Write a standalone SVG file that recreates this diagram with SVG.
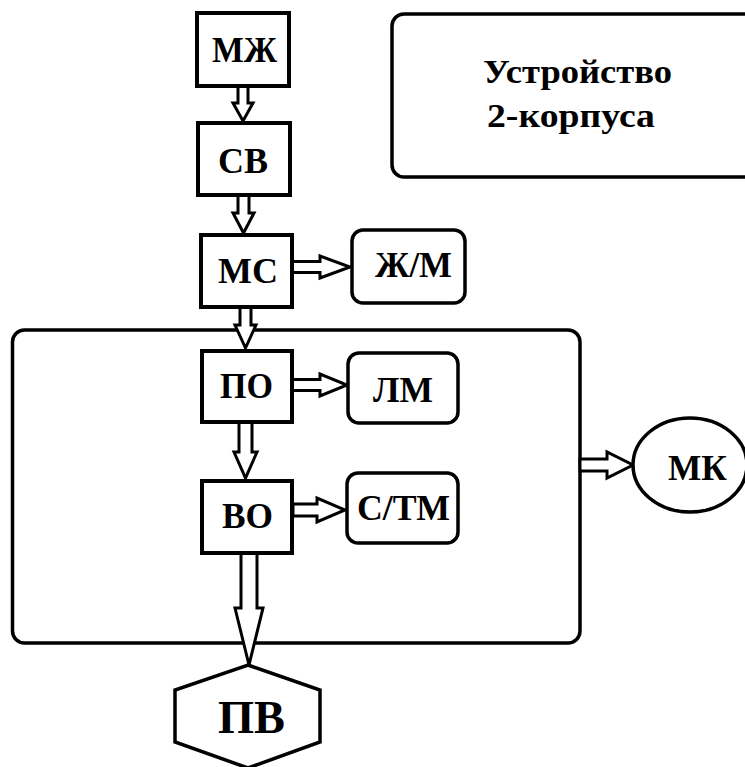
<svg xmlns="http://www.w3.org/2000/svg" width="745" height="767" viewBox="0 0 745 767">
<style>
.box{fill:#fff;stroke:#000;stroke-width:4}
.rbox{fill:#fff;stroke:#000;stroke-width:3.5}
.arr{fill:#fff;stroke:#000;stroke-width:3;stroke-linejoin:miter}
.t{font-family:"Liberation Serif","DejaVu Serif","Times New Roman",serif;font-weight:bold;font-size:36px;fill:#000;text-anchor:middle}
.tt{font-family:"Liberation Serif","DejaVu Serif","Times New Roman",serif;font-weight:bold;font-size:34px;fill:#000}
</style>
<rect width="745" height="767" fill="#fff"/>
<g id="device2">
<rect class="rbox" x="392" y="14" width="380" height="163" rx="12"/>
<text class="tt" x="483" y="83" textLength="189" lengthAdjust="spacingAndGlyphs">Устройство</text>
<text class="tt" x="487" y="127" textLength="168" lengthAdjust="spacingAndGlyphs">2-корпуса</text>
</g>
<g id="housing">
<rect class="rbox" x="12.5" y="330" width="567.5" height="313" rx="12"/>
</g>
<g id="connectors">
<polygon class="arr" points="238,86 248,86 248,103 253,103 243,121 233,103 238,103"/>
<polygon class="arr" points="238,195 249,195 249,213 254,213 243.5,233 233,213 238,213"/>
<polygon class="arr" points="240,307 251,307 251,325 256,325 245.5,348 235,325 240,325"/>
<polygon class="arr" points="239,422 252,422 252,452 257,452 245.5,478 234,452 239,452"/>
<polygon class="arr" points="241,553 257,553 257,608 263,608 249,665 235,608 241,608"/>
<polygon class="arr" points="292,261.5 320,261.5 320,256 350,267 320,278 320,272.5 292,272.5"/>
<polygon class="arr" points="292,379.5 320,379.5 320,374 347,385 320,396 320,390.5 292,390.5"/>
<polygon class="arr" points="293,504 317,504 317,498 345,510 317,522 317,516 293,516"/>
<polygon class="arr" points="580,459 607,459 607,452 633,465 607,478 607,471 580,471"/>
</g>
<g id="MZh">
<rect class="box" x="197" y="13" width="92" height="73"/>
<text class="t" x="244.5" y="62" textLength="65" lengthAdjust="spacingAndGlyphs">МЖ</text>
</g>
<g id="SV">
<rect class="box" x="198" y="123" width="92" height="72"/>
<text class="t" x="243" y="173" textLength="50" lengthAdjust="spacingAndGlyphs">СВ</text>
</g>
<g id="MS">
<rect class="box" x="201" y="235" width="91" height="72"/>
<text class="t" x="248" y="283" textLength="60" lengthAdjust="spacingAndGlyphs">МС</text>
</g>
<g id="ZhM">
<rect class="rbox" x="352" y="230" width="113" height="73" rx="11"/>
<text class="t" x="413.5" y="277" textLength="77" lengthAdjust="spacingAndGlyphs">Ж/М</text>
</g>
<g id="PO">
<rect class="box" x="202" y="351" width="90" height="71"/>
<text class="t" x="246.5" y="398" textLength="53" lengthAdjust="spacingAndGlyphs">ПО</text>
</g>
<g id="LM">
<rect class="rbox" x="348" y="353" width="110" height="70" rx="11"/>
<text class="t" x="403" y="402" textLength="60" lengthAdjust="spacingAndGlyphs">ЛМ</text>
</g>
<g id="VO">
<rect class="box" x="202" y="481" width="90" height="72"/>
<text class="t" x="247.5" y="528" textLength="51" lengthAdjust="spacingAndGlyphs">ВО</text>
</g>
<g id="STM">
<rect class="rbox" x="347" y="473" width="111" height="70" rx="11"/>
<text class="t" x="403.5" y="520" textLength="93" lengthAdjust="spacingAndGlyphs">С/ТМ</text>
</g>
<g id="MK">
<ellipse class="rbox" cx="690" cy="465" rx="57" ry="47"/>
<text class="t" x="697.5" y="480" textLength="59" lengthAdjust="spacingAndGlyphs">МК</text>
</g>
<g id="PV">
<polygon class="rbox" points="248,665 320,690 320,742 248,768 175,742 175,690"/>
<text class="t" x="251.5" y="733" style="font-size:47px" textLength="67" lengthAdjust="spacingAndGlyphs">ПВ</text>
</g>
</svg>
